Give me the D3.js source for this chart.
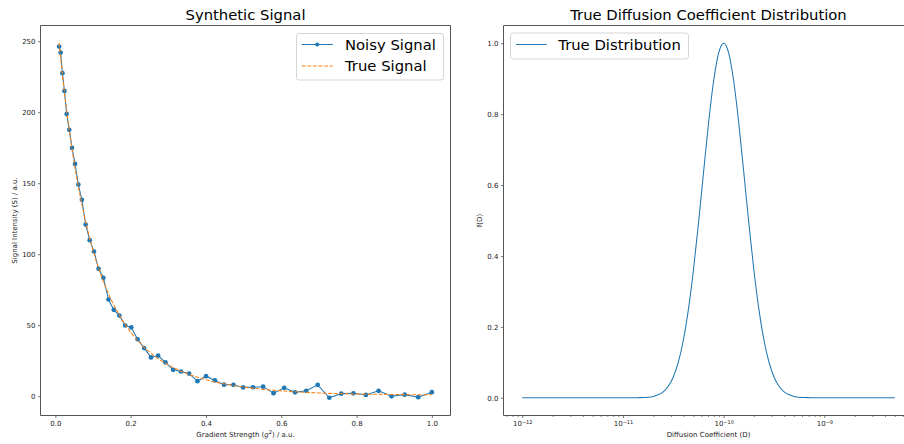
<!DOCTYPE html>
<html><head><meta charset="utf-8">
<script src="https://cdn.jsdelivr.net/npm/d3@7"></script>
<style>
body{margin:0;background:#fff}
svg{display:block}
text{font-family:"DejaVu Sans",sans-serif}
</style>
</head><body>
<svg id="c" width="904" height="444"></svg>
<script>
// ---------- data ----------
const gradient = [0.01, 0.01401, 0.0187, 0.02406, 0.03009, 0.0368, 0.04419, 0.05224, 0.06098, 0.07039,
  0.08047, 0.09123, 0.10266, 0.11477, 0.12755, 0.14101, 0.15514, 0.16995, 0.18543, 0.20158,
  0.21841, 0.23592, 0.2541, 0.27295, 0.29248, 0.31269, 0.33357, 0.35512, 0.37735, 0.40025,
  0.42383, 0.44808, 0.47301, 0.49861, 0.52489, 0.55184, 0.57946, 0.60776, 0.63674, 0.66639,
  0.69671, 0.72771, 0.75939, 0.79174, 0.82476, 0.85846, 0.89283, 0.92788, 0.9636, 1.0];
const noisySignal = [246.3, 242.0, 227.5, 215.0, 198.8, 187.6, 174.9, 163.6, 149.1, 138.3,
  120.9, 109.9, 101.9, 89.7, 83.4, 68.1, 60.8, 56.8, 49.8, 48.5,
  40.1, 33.9, 27.3, 28.6, 23.8, 18.6, 17.4, 15.9, 10.6, 14.1,
  11.1, 8.1, 8.0, 6.2, 6.3, 6.7, 2.1, 5.9, 2.7, 3.8,
  8.0, -1.1, 1.8, 2.0, 0.9, 3.8, -0.1, 1.1, -0.7, 2.8];
const trueSignal = [248.9, 238.3, 226.6, 214.1, 201.0, 187.7, 174.1, 160.8, 147.7, 134.9,
  122.8, 111.2, 100.3, 90.2, 80.8, 72.1, 64.2, 57.0, 50.4, 44.5,
  39.2, 34.4, 30.2, 26.4, 23.1, 20.2, 17.6, 15.3, 13.3, 11.5,
  10.0, 8.7, 7.5, 6.5, 5.6, 4.8, 4.2, 3.6, 3.1, 2.7,
  2.3, 2.0, 1.8, 1.6, 1.4, 1.3, 1.2, 1.1, 1.0, 1.0];
const signalTicks = [0, 50, 100, 150, 200, 250];
const gradTicks = [0, 0.2, 0.4, 0.6, 0.8, 1.0];

// diffusion coefficient given as log10 exponents
const diffExp = [-12, -11.5, -11, -10.9, -10.85, -10.8, -10.75, -10.7, -10.65, -10.6, -10.55, -10.5,
  -10.45, -10.4, -10.35, -10.3, -10.25, -10.2, -10.15, -10.1, -10.05, -10, -9.95, -9.9, -9.85,
  -9.8, -9.75, -9.7, -9.65, -9.6, -9.55, -9.5, -9.45, -9.4, -9.35, -9.3, -9.25, -9.2, -9.15,
  -9.1, -9, -8.5, -8.301];
const distValues = [0, 0, 0, 0.0001, 0.0003, 0.0007, 0.0017, 0.0039, 0.0083, 0.0169, 0.0324, 0.0587,
  0.1007, 0.1630, 0.2494, 0.3604, 0.4923, 0.6354, 0.7748, 0.8928, 0.9721, 1, 0.9721, 0.8928, 0.7748,
  0.6354, 0.4923, 0.3604, 0.2494, 0.1630, 0.1007, 0.0587, 0.0324, 0.0169, 0.0083, 0.0039, 0.0017,
  0.0007, 0.0003, 0.0001, 0, 0, 0];
const fTicks = [0, 0.2, 0.4, 0.6, 0.8, 1.0];
const decadeTicks = [-12, -11, -10, -9];

// ---------- drawing ----------
const BLUE = "#1f77b4", ORANGE = "#ff7f0e", TXT = "#222", SPINE = "#555";
const svg = d3.select("#c");
svg.append("rect").attr("width", 904).attr("height", 444).attr("fill", "#fff");

function styleAxis(g) {
  g.select(".domain").remove();
  g.selectAll(".tick line").attr("stroke", SPINE).attr("stroke-width", 0.8);
  g.selectAll(".tick text").attr("fill", TXT).attr("font-size", 7).attr("font-family", "DejaVu Sans");
}
function frame(x0, x1, y0, y1) {
  const g = svg.append("g").attr("fill", "none").attr("stroke", SPINE).attr("stroke-width", 1);
  g.append("line").attr("x1", x0).attr("x2", x0).attr("y1", y0).attr("y2", y1);
  g.append("line").attr("x1", x0).attr("x2", x1).attr("y1", y1).attr("y2", y1);
  g.append("line").attr("x1", x0).attr("x2", x1).attr("y1", y0).attr("y2", y0);
  g.append("line").attr("x1", x1).attr("x2", x1).attr("y1", y0).attr("y2", y1);
}

// ===== Left panel =====
const L = {x0: 40.5, x1: 450.5, y0: 25.5, y1: 415.5};
const xs = d3.scaleLinear().domain([-0.0395, 1.0495]).range([L.x0, L.x1]);
const ys = d3.scaleLinear().domain([-13.6, 261.1]).range([L.y1, L.y0]);

svg.append("g").attr("transform", `translate(0,${L.y1})`)
  .call(d3.axisBottom(xs).tickValues(gradTicks).tickFormat(d3.format(".1f")).tickSize(2.5).tickPadding(3))
  .call(styleAxis);
svg.append("g").attr("transform", `translate(${L.x0},0)`)
  .call(d3.axisLeft(ys).tickValues(signalTicks).tickSize(2.5).tickPadding(2.5))
  .call(styleAxis);

svg.append("clipPath").attr("id", "clipL").append("rect")
  .attr("x", L.x0).attr("y", L.y0).attr("width", L.x1 - L.x0).attr("height", L.y1 - L.y0);

const gL = svg.append("g").attr("clip-path", "url(#clipL)");
const lineN = d3.line().x((d, i) => xs(gradient[i])).y(d => ys(d));
gL.append("path").datum(noisySignal).attr("d", lineN).attr("fill", "none")
  .attr("stroke", BLUE).attr("stroke-width", 1.05);
gL.selectAll("circle.pt").data(noisySignal).join("circle").attr("class", "pt")
  .attr("cx", (d, i) => xs(gradient[i])).attr("cy", d => ys(d)).attr("r", 2.35).attr("fill", BLUE);
gL.append("path").datum(trueSignal).attr("d", lineN).attr("fill", "none")
  .attr("stroke", ORANGE).attr("stroke-width", 1.05).attr("stroke-dasharray", "3.9,1.7");

frame(L.x0, L.x1, L.y0, L.y1);

svg.append("text").attr("x", (L.x0 + L.x1) / 2).attr("y", 20).attr("text-anchor", "middle")
  .attr("font-size", 14.8).attr("fill", "#000").text("Synthetic Signal");

const xl = svg.append("text").attr("x", (L.x0 + L.x1) / 2).attr("y", 436.5).attr("text-anchor", "middle")
  .attr("font-size", 7).attr("fill", TXT);
xl.append("tspan").text("Gradient Strength (");
xl.append("tspan").attr("font-style", "italic").text("g");
xl.append("tspan").attr("font-size", 5).attr("dy", -3).text("2");
xl.append("tspan").attr("dy", 3).text(") / a.u.");

svg.append("text").attr("transform", `translate(16.5,${(L.y0 + L.y1) / 2}) rotate(-90)`)
  .attr("text-anchor", "middle").attr("font-size", 7).attr("fill", TXT)
  .text("Signal Intensity (S) / a.u.");

// legend left
const lg = svg.append("g");
lg.append("rect").attr("x", 296.5).attr("y", 33.5).attr("width", 147).attr("height", 46.5).attr("rx", 2.5)
  .attr("fill", "#fff").attr("fill-opacity", 0.8).attr("stroke", "#d5d5d5").attr("stroke-width", 1);
lg.append("line").attr("x1", 301.7).attr("x2", 332.7).attr("y1", 44.5).attr("y2", 44.5)
  .attr("stroke", BLUE).attr("stroke-width", 1.05);
lg.append("circle").attr("cx", 317.2).attr("cy", 44.5).attr("r", 2.1).attr("fill", BLUE);
lg.append("line").attr("x1", 301.7).attr("x2", 332.7).attr("y1", 66).attr("y2", 66)
  .attr("stroke", ORANGE).attr("stroke-width", 1.05).attr("stroke-dasharray", "3.9,1.7");
lg.append("text").attr("x", 345).attr("y", 49.8).attr("font-size", 14.8).attr("fill", "#000").text("Noisy Signal");
lg.append("text").attr("x", 345).attr("y", 71.3).attr("font-size", 14.8).attr("fill", "#000").text("True Signal");

// ===== Right panel =====
const R = {x0: 503.5, x1: 913.5, y0: 25.5, y1: 415.5};
const xr = d3.scaleLog().domain([Math.pow(10, -12.186), Math.pow(10, -8.115)]).range([R.x0, R.x1]);
const yr = d3.scaleLinear().domain([-0.05, 1.05]).range([R.y1, R.y0]);

const majors = decadeTicks.map(e => Math.pow(10, e));
const minors = [];
for (let e = -13; e <= -9; e++) for (let k = 2; k <= 9; k++) {
  const v = k * Math.pow(10, e);
  if (v >= xr.domain()[0] && v <= xr.domain()[1]) minors.push(v);
}
svg.append("g").attr("transform", `translate(0,${R.y1})`)
  .call(d3.axisBottom(xr).tickValues(minors).tickFormat("").tickSize(1.4))
  .call(styleAxis);
const xa = svg.append("g").attr("transform", `translate(0,${R.y1})`)
  .call(d3.axisBottom(xr).tickValues(majors).tickFormat("").tickSize(2.5).tickPadding(3.5))
  .call(styleAxis);
xa.selectAll(".tick text").each(function(d, i) {
  const t = d3.select(this);
  t.append("tspan").text("10");
  t.append("tspan").attr("font-size", 5).attr("dy", "-0.55em").text("\u2212" + Math.abs(decadeTicks[i]));
});

svg.append("g").attr("transform", `translate(${R.x0},0)`)
  .call(d3.axisLeft(yr).tickValues(fTicks).tickFormat(d3.format(".1f")).tickSize(2.5).tickPadding(2.5))
  .call(styleAxis);

const lineR = d3.line().x((d, i) => xr(Math.pow(10, diffExp[i]))).y(d => yr(d)).curve(d3.curveMonotoneX);
svg.append("path").datum(distValues).attr("d", lineR).attr("fill", "none")
  .attr("stroke", BLUE).attr("stroke-width", 1.05);

frame(R.x0, R.x1, R.y0, R.y1);

svg.append("text").attr("x", (R.x0 + R.x1) / 2).attr("y", 20).attr("text-anchor", "middle")
  .attr("font-size", 14.8).attr("fill", "#000").text("True Diffusion Coefficient Distribution");
svg.append("text").attr("x", (R.x0 + R.x1) / 2).attr("y", 437).attr("text-anchor", "middle")
  .attr("font-size", 7).attr("fill", TXT).text("Diffusion Coefficient (D)");
svg.append("text").attr("transform", `translate(482,${(R.y0 + R.y1) / 2}) rotate(-90)`)
  .attr("text-anchor", "middle").attr("font-size", 7).attr("fill", TXT).text("f(D)");

const lr = svg.append("g");
lr.append("rect").attr("x", 510.5).attr("y", 33).attr("width", 178).attr("height", 26).attr("rx", 2.5)
  .attr("fill", "#fff").attr("fill-opacity", 0.8).attr("stroke", "#d5d5d5").attr("stroke-width", 1);
lr.append("line").attr("x1", 516).attr("x2", 546.7).attr("y1", 44.5).attr("y2", 44.5)
  .attr("stroke", BLUE).attr("stroke-width", 1.05);
lr.append("text").attr("x", 558.3).attr("y", 49.8).attr("font-size", 14.8).attr("fill", "#000").text("True Distribution");
</script>
</body></html>
